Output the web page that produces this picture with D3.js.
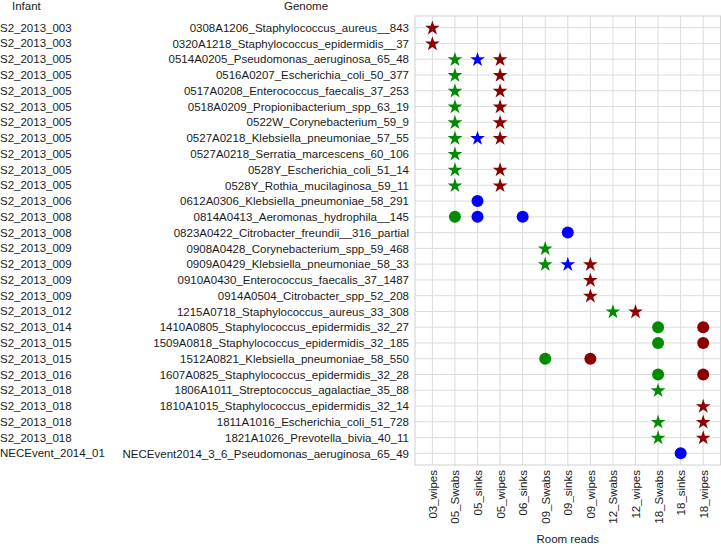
<!DOCTYPE html>
<html>
<head>
<meta charset="utf-8">
<script src="https://cdn.jsdelivr.net/npm/d3@7"></script>
<style>
  body { margin: 0; background: #fff; }
  text { font-family: "Liberation Sans", Arial, Helvetica, sans-serif; }
</style>
</head>
<body>
<svg id="chart" width="721" height="544"></svg>
<script>
// ---- data ----
const rooms = ["03_wipes","05_Swabs","05_sinks","05_wipes","06_sinks","09_Swabs","09_sinks","09_wipes","12_Swabs","12_wipes","18_Swabs","18_sinks","18_wipes"];

const infants = ["S2_2013_003","S2_2013_003","S2_2013_005","S2_2013_005","S2_2013_005","S2_2013_005","S2_2013_005","S2_2013_005","S2_2013_005","S2_2013_005","S2_2013_005","S2_2013_006","S2_2013_008","S2_2013_008","S2_2013_009","S2_2013_009","S2_2013_009","S2_2013_009","S2_2013_012","S2_2013_014","S2_2013_015","S2_2013_015","S2_2013_016","S2_2013_018","S2_2013_018","S2_2013_018","S2_2013_018","NECEvent_2014_01"];

const genomes = ["0308A1206_Staphylococcus_aureus__843","0320A1218_Staphylococcus_epidermidis__37","0514A0205_Pseudomonas_aeruginosa_65_48","0516A0207_Escherichia_coli_50_377","0517A0208_Enterococcus_faecalis_37_253","0518A0209_Propionibacterium_spp_63_19","0522W_Corynebacterium_59_9","0527A0218_Klebsiella_pneumoniae_57_55","0527A0218_Serratia_marcescens_60_106","0528Y_Escherichia_coli_51_14","0528Y_Rothia_mucilaginosa_59_11","0612A0306_Klebsiella_pneumoniae_58_291","0814A0413_Aeromonas_hydrophila__145","0823A0422_Citrobacter_freundii__316_partial","0908A0428_Corynebacterium_spp_59_468","0909A0429_Klebsiella_pneumoniae_58_33","0910A0430_Enterococcus_faecalis_37_1487","0914A0504_Citrobacter_spp_52_208","1215A0718_Staphylococcus_aureus_33_308","1410A0805_Staphylococcus_epidermidis_32_27","1509A0818_Staphylococcus_epidermidis_32_185","1512A0821_Klebsiella_pneumoniae_58_550","1607A0825_Staphylococcus_epidermidis_32_28","1806A1011_Streptococcus_agalactiae_35_88","1810A1015_Staphylococcus_epidermidis_32_14","1811A1016_Escherichia_coli_51_728","1821A1026_Prevotella_bivia_40_11","NECEvent2014_3_6_Pseudomonas_aeruginosa_65_49"];

// hits per genome row: room reads where the genome was found
const hits = [
  ["03_wipes"],
  ["03_wipes"],
  ["05_Swabs","05_sinks","05_wipes"],
  ["05_Swabs","05_wipes"],
  ["05_Swabs","05_wipes"],
  ["05_Swabs","05_wipes"],
  ["05_Swabs","05_wipes"],
  ["05_Swabs","05_sinks","05_wipes"],
  ["05_Swabs"],
  ["05_Swabs","05_wipes"],
  ["05_Swabs","05_wipes"],
  ["05_sinks"],
  ["05_Swabs","05_sinks","06_sinks"],
  ["09_sinks"],
  ["09_Swabs"],
  ["09_Swabs","09_sinks","09_wipes"],
  ["09_wipes"],
  ["09_wipes"],
  ["12_Swabs","12_wipes"],
  ["18_Swabs","18_wipes"],
  ["18_Swabs","18_wipes"],
  ["09_Swabs","09_wipes"],
  ["18_Swabs","18_wipes"],
  ["18_Swabs"],
  ["18_wipes"],
  ["18_Swabs","18_wipes"],
  ["18_Swabs","18_wipes"],
  ["18_sinks"]
];
// marker shape per genome row
const shapes = ["star","star","star","star","star","star","star","star","star","star","star","circle","circle","circle","star","star","star","star","star","circle","circle","circle","circle","star","star","star","star","circle"];

const roomTypes = ["Swabs","sinks","wipes"];
const roomColors = ["#008B00","#0000FF","#8B0000"];

// ---- build points ----
const points = [];
genomes.forEach((g, i) => hits[i].forEach(r => points.push({genome: g, room: r, shape: shapes[i]})));

// ---- layout ----
const svg = d3.select("#chart");
const panel = {left: 415, right: 720.6, top: 16, bottom: 465};

const x = d3.scalePoint().domain(rooms).range([panel.left, panel.right]).padding(0.77);
const y = d3.scalePoint().domain(genomes).range([panel.top, panel.bottom]).padding(0.74);
const color = d3.scaleOrdinal().domain(roomTypes).range(roomColors);

// grid
const g = svg.append("g");
g.selectAll("line.h").data(genomes).enter().append("line")
  .attr("x1", panel.left).attr("x2", panel.right)
  .attr("y1", d => y(d)).attr("y2", d => y(d))
  .attr("stroke", "#dcdcdc").attr("stroke-width", 1);
g.selectAll("line.v").data(rooms).enter().append("line")
  .attr("y1", panel.top).attr("y2", panel.bottom)
  .attr("x1", d => x(d)).attr("x2", d => x(d))
  .attr("stroke", "#dcdcdc").attr("stroke-width", 1);
g.append("rect")
  .attr("x", panel.left).attr("y", panel.top)
  .attr("width", panel.right - panel.left).attr("height", panel.bottom - panel.top)
  .attr("fill", "none").attr("stroke", "#d0d0d0").attr("stroke-width", 1);

// points
const star = d3.symbol().type(d3.symbolStar).size(68);
const circ = d3.symbol().type(d3.symbolCircle).size(Math.PI * 36);
svg.append("g").selectAll("path").data(points).enter().append("path")
  .attr("d", d => d.shape === "star" ? star() : circ())
  .attr("transform", d => `translate(${x(d.room)},${y(d.genome) + (d.shape === "star" ? 0.5 : 0)})`)
  .attr("fill", d => color(d.room.split("_")[1]));

// y axis labels (genome, right aligned)
const fs = "11.5px";
const yAxis = d3.axisLeft(y).tickSize(0).tickPadding(6);
const ya = svg.append("g").attr("transform", `translate(${panel.left},0)`).call(yAxis);
ya.select(".domain").remove();
ya.selectAll("text").style("font-size", fs).attr("fill", "#1a1a1a")
  .style("font-family", "'Liberation Sans', Arial, sans-serif");

// infant column
svg.append("g").selectAll("text").data(genomes).enter().append("text")
  .attr("x", 0).attr("y", d => y(d)).attr("dy", "0.35em")
  .style("font-size", fs).attr("fill", "#1a1a1a")
  .text((d, i) => infants[i]);

// headers
svg.append("text").attr("x", 12).attr("y", 10).style("font-size", fs).attr("fill", "#1a1a1a").text("Infant");
svg.append("text").attr("x", 306).attr("y", 10).attr("text-anchor", "middle").style("font-size", fs).attr("fill", "#1a1a1a").text("Genome");

// x axis
const xAxis = d3.axisBottom(x).tickSize(0).tickPadding(5);
const xa = svg.append("g").attr("transform", `translate(0,${panel.bottom})`).call(xAxis);
xa.select(".domain").remove();
xa.selectAll("text")
  .style("font-size", fs).attr("fill", "#1a1a1a")
  .style("font-family", "'Liberation Sans', Arial, sans-serif")
  .attr("text-anchor", "end")
  .attr("transform", "rotate(-90)")
  .attr("x", -5).attr("y", 0).attr("dy", "0.35em");

svg.append("text").attr("x", (panel.left + panel.right) / 2).attr("y", 543)
  .attr("text-anchor", "middle").style("font-size", fs).attr("fill", "#1a1a1a").text("Room reads");
</script>
</body>
</html>
